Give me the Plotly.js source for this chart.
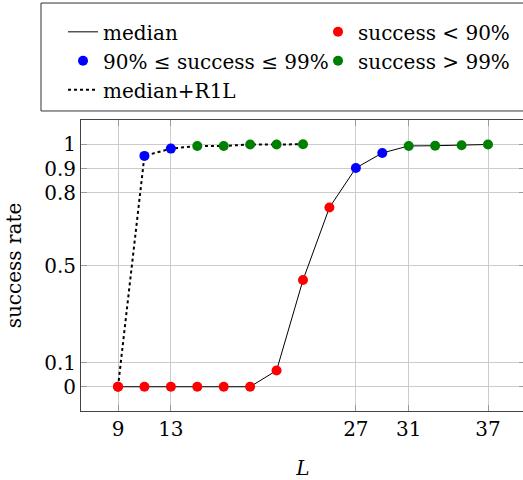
<!DOCTYPE html>
<html><head><meta charset="utf-8">
<script src="https://cdn.plot.ly/plotly-3.0.1.min.js"></script>
<style>html,body{margin:0;padding:0;overflow:hidden;background:#fff}</style>
</head><body><div id="chart"></div>
<script>
// median series
const L_median = [9, 11, 13, 15, 17, 19, 21, 23, 25, 27, 29, 31, 33, 35, 37];
const rate_median = [0, 0, 0, 0, 0, 0, 0.067, 0.44, 0.739, 0.902, 0.964, 0.993, 0.994, 0.996, 0.999];
// median+R1L series
const L_r1l = [9, 11, 13, 15, 17, 19, 21, 23];
const rate_r1l = [0, 0.952, 0.982, 0.993, 0.993, 0.999, 0.999, 1.0];

const xTicks = [9, 13, 27, 31, 37];
const yTicks = [0, 0.1, 0.5, 0.8, 0.9, 1];
const yTickText = ['0', '0.1', '0.5', '0.8', '0.9', '1'];

// classify every point into its success category
const allX = L_median.concat(L_r1l);
const allY = rate_median.concat(rate_r1l);
function pick(test) {
  const xs = [], ys = [];
  allX.forEach((x, i) => { if (test(allY[i])) { xs.push(x); ys.push(allY[i]); } });
  return {x: xs, y: ys};
}
const red = pick(v => v < 0.9);
const blue = pick(v => v >= 0.9 && v <= 0.99);
const green = pick(v => v > 0.99);

const FONT = 'DejaVu Serif, serif';
const tMedian = {x: L_median, y: rate_median, mode: 'lines', name: 'median', legendrank: 1,
   line: {color: '#000', width: 1}};
const tRed = {x: red.x, y: red.y, mode: 'markers', name: 'success < 90%', legendrank: 2,
   marker: {color: '#ff0000', size: 10}};
const tBlue = {x: blue.x, y: blue.y, mode: 'markers', name: '90% ≤ success ≤ 99%', legendrank: 3,
   marker: {color: '#0000ff', size: 10}};
const tGreen = {x: green.x, y: green.y, mode: 'markers', name: 'success > 99%', legendrank: 4,
   marker: {color: '#008000', size: 10}};
const tR1L = {x: L_r1l, y: rate_r1l, mode: 'lines', name: 'median+R1L', legendrank: 5,
   line: {color: '#000', width: 2, dash: 'dot'}};

const layout = {
  width: 530, height: 480,
  margin: {l: 81, r: 5, t: 120, b: 69, autoexpand: false},
  paper_bgcolor: '#fff', plot_bgcolor: '#fff',
  font: {family: FONT, size: 20, color: '#000'},
  showlegend: true,
  legend: {
    orientation: 'h', x: -0.0405, xanchor: 'left', y: 1.37, yanchor: 'top',
    entrywidth: 210, entrywidthmode: 'pixels',
    bgcolor: 'rgba(0,0,0,0)', borderwidth: 0,
    font: {family: FONT, size: 20, color: '#000'}
  },
  shapes: [{type: 'rect', xref: 'paper', yref: 'paper',
    x0: -0.0901, x1: 1.05, y0: 1.031, y1: 1.402,
    line: {color: '#333', width: 1}, fillcolor: 'rgba(0,0,0,0)'}],
  xaxis: {
    range: [6.2, 39.8], tickvals: xTicks, ticktext: xTicks.map(String),
    showgrid: true, gridcolor: '#cccccc', gridwidth: 1, zeroline: false,
    showline: true, linecolor: '#444', linewidth: 1, mirror: 'ticks',
    ticks: 'inside', ticklen: 6, tickcolor: '#999',
    tickfont: {family: FONT, size: 20},
    title: {text: '<i>L</i>', font: {family: FONT, size: 20}, standoff: 20}
  },
  yaxis: {
    range: [-0.1, 1.1], tickvals: yTicks, ticktext: yTickText,
    showgrid: true, gridcolor: '#cccccc', gridwidth: 1, zeroline: false,
    showline: true, linecolor: '#444', linewidth: 1, mirror: 'ticks',
    ticks: 'inside', ticklen: 6, tickcolor: '#999',
    tickfont: {family: FONT, size: 20},
    title: {text: 'success rate', font: {family: FONT, size: 20}, standoff: 17}
  }
};
Plotly.newPlot('chart', [tMedian, tR1L, tRed, tBlue, tGreen], layout, {displayModeBar: false, staticPlot: true});
</script></body></html>
